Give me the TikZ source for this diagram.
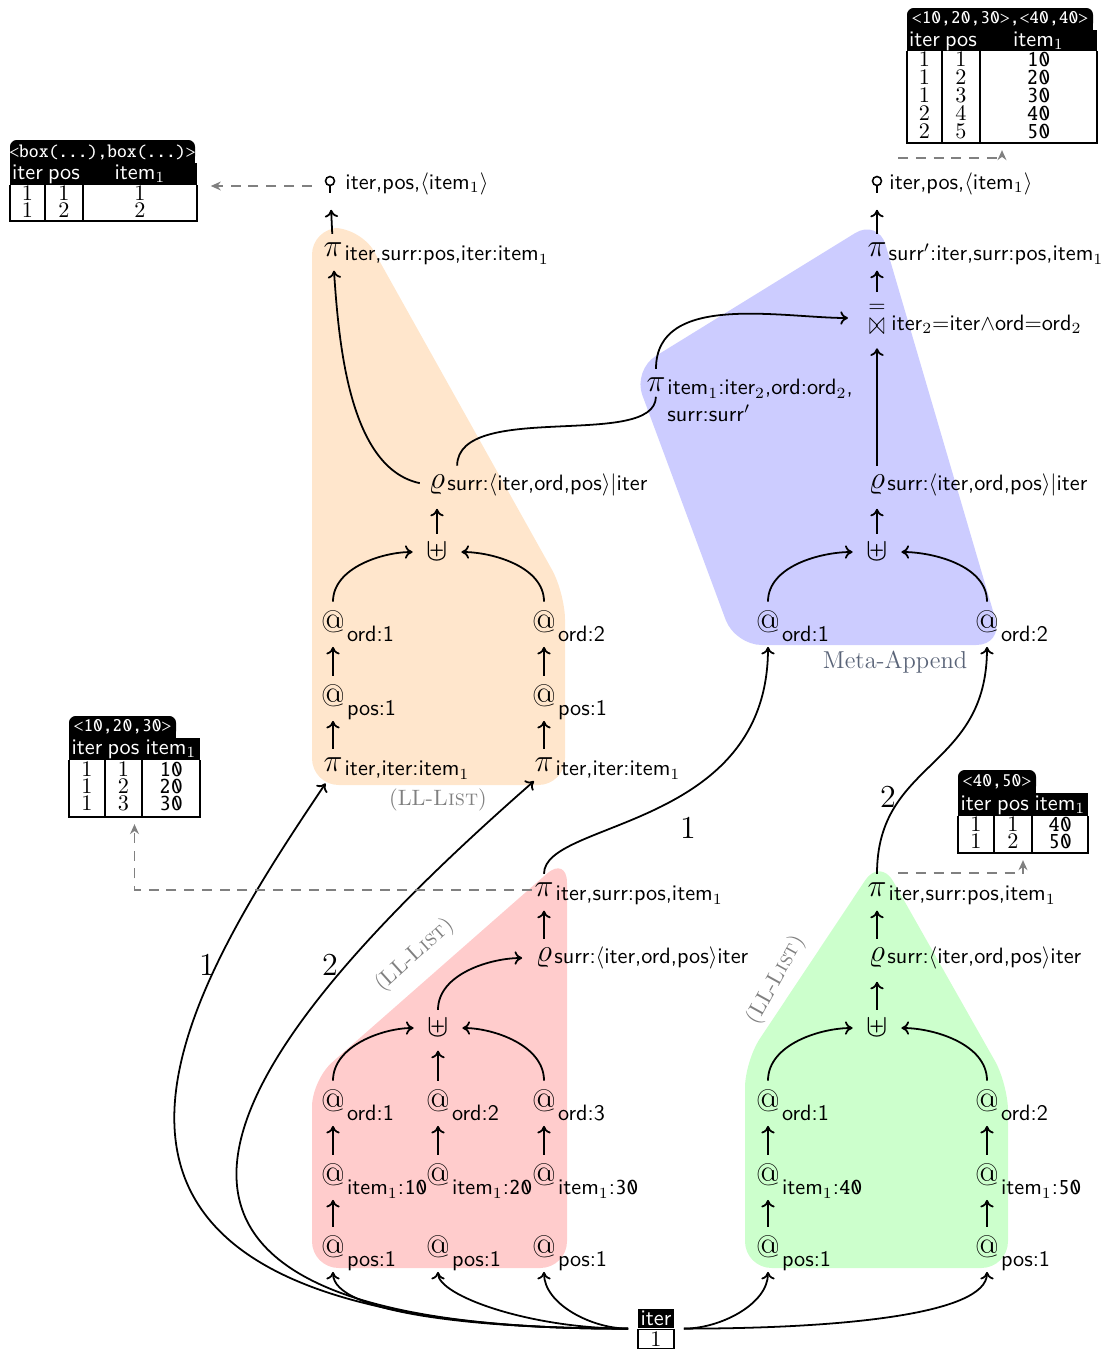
\documentclass[tikz,border=0pt]{standalone}
\usepackage[T1,TU]{fontenc}
\usepackage{amsmath,amssymb}
\usetikzlibrary{arrows.meta,fit}
\definecolor{orgfill}{RGB}{255,230,204}
\definecolor{bluefill}{RGB}{204,204,255}
\definecolor{redfill}{RGB}{255,204,204}
\definecolor{greenfill}{RGB}{204,255,204}
\definecolor{notegray}{gray}{0.5}
\definecolor{metacol}{RGB}{90,100,120}
\newcommand{\opsz}{\fontsize{14}{14}\selectfont}
\newcommand{\tabsz}{\fontsize{8.4}{9}\selectfont}
\newcommand{\tx}{\fontencoding{T1}\fontfamily{txtt}\selectfont}
% operator glyph with its subscript: name, x, y, glyph, drop, subscript
\newcommand{\opnode}[6]{%
  \node (#1) [op] at (#2,#3) {#4};
  \node (#1s) [sub] at ([xshift=0.6pt,yshift=-#5]#1.base east) {#6};}
\begin{document}
\begin{tikzpicture}[x=0.45pt,y=-0.45pt,
  op/.style={inner sep=0pt,font=\opsz},
  sub/.style={inner sep=0pt,anchor=base west,font=\sffamily},
  flow/.style={line width=0.8pt,-{To[length=3.4pt,width=6pt]},shorten <=4pt,shorten >=6pt},
  link/.style={line width=0.8pt,shorten <=4pt,shorten >=2pt},
  trace/.style={notegray,dash pattern=on 4.5pt off 3.5pt,line width=0.8pt,-{Stealth[length=4.5pt,width=4pt]}},
  region/.style={rounded corners=12pt},
  note/.style={notegray,font=\rmfamily},
  num/.style={font=\Large,inner sep=0pt},
  tabtop/.style={text=white,font=\tx\tabsz,inner sep=0pt},
  hdr/.style={text=white,font=\sffamily,inner sep=0pt,text height=7pt,text depth=2pt},
  cell/.style={font=\rmfamily,inner sep=0pt,text height=7pt,text depth=0pt},
  ttcell/.style={font=\tx,inner sep=0pt,text height=7pt,text depth=0pt},
  rule/.style={line width=0.5pt},
  holder/.style={inner sep=0pt},
  far/.style={out looseness=1.3,in looseness=0.45},
  serial/.pic={\draw[line width=0.7pt] (0,-1) circle[radius=4.5]; \draw[line width=0.7pt] (0,3.5) -- (0,11);}
]
\useasboundingbox (0,0) rectangle (1114,1349);

% ---------------- shaded regions ----------------
\fill[orgfill,region] (312,785) -- (312,228) -- (361,228) -- (565,593) -- (565,785) -- cycle;
\fill[bluefill,region] (878,219) -- (633,370) -- (735,645) -- (1003,645) -- cycle;
\fill[redfill,region] (567,856) -- (312,1080) -- (312,1268) -- (567,1268) -- cycle;
\fill[greenfill,region] (880,858) -- (745,1061) -- (745,1268) -- (1008,1268) -- (1008,1084) -- cycle;

\node (llA) [note] at (438,800) {(LL-\textsc{List})};
\node (llR) [note,rotate=42] at (415,955) {(LL-\textsc{List})};
\node (llG) [note,rotate=61] at (776,980) {(LL-\textsc{List})};
\node (meta) [font=\rmfamily\fontsize{11}{11}\selectfont,text=metacol] at (895,662) {Meta-Append};

% ---------------- first list (orange) ----------------
\node (serA) [holder,minimum width=4pt,minimum height=9pt] at (330,186) {};
\pic at (330,182) {serial};
\node (serAt) [sub] at (345,189) {iter,pos,$\langle$item$_1\rangle$};
\opnode{piTopA}{333}{250}{$\pi$}{1.8pt}{iter,surr:pos,iter:item$_1$}
\opnode{rhoA}{437}{485}{$\varrho$}{0.6pt}{surr:$\langle$iter,ord,pos$\rangle|$iter}
\node (uplusA) [op] at (437,552) {$\uplus$};
\opnode{ordA1}{333}{622}{\rmfamily @}{4pt}{ord:1}
\opnode{ordA2}{544}{622}{\rmfamily @}{4pt}{ord:2}
\opnode{posA1}{333}{696}{\rmfamily @}{4pt}{pos:1}
\opnode{posA2}{544}{696}{\rmfamily @}{4pt}{pos:1}
\opnode{piA1}{333}{765}{$\pi$}{1.8pt}{iter,iter:item$_1$}
\opnode{piA2}{544}{765}{$\pi$}{1.8pt}{iter,iter:item$_1$}

\draw[flow] (piA1) -- (posA1);
\draw[flow] (piA2) -- (posA2);
\draw[flow] (posA1) -- (ordA1);
\draw[flow] (posA2) -- (ordA2);
\draw[flow] (ordA1.north) to[out=90,in=180] (uplusA.west);
\draw[flow] (ordA2.north) to[out=90,in=0] (uplusA.east);
\draw[flow] (uplusA) -- (rhoA);
\draw[flow] (rhoA.west) to[out=168,in=-86,looseness=0.85] (piTopA.south);
\draw[flow] (piTopA) -- (serA);

% ---------------- meta append (blue) ----------------
\node (serB) [holder,minimum width=4pt,minimum height=9pt] at (877,186) {};
\pic at (877,182) {serial};
\node (serBt) [sub] at (889,189) {iter,pos,$\langle$item$_1\rangle$};
\opnode{piTopB}{877}{250}{$\pi$}{1.8pt}{surr$'$:iter,surr:pos,item$_1$}
\node (join) [op] at (877,318) {$\overset{=}{\scalebox{0.6}[1.05]{$\bowtie$}}$};
\node (joins) [sub,anchor=west] at (891,324) {iter$_2{=}$iter$\wedge$ord$=$ord$_2$};
\node (piI) [op] at (656,385) {$\pi$};
\node (piIs) [sub,anchor=north west,align=left] at (667,379) {item$_1$:iter$_2$,ord:ord$_2$,\\surr:surr$'$};
\opnode{rhoB}{877}{485}{$\varrho$}{0.6pt}{surr:$\langle$iter,ord,pos$\rangle|$iter}
\node (uplusB) [op] at (877,552) {$\uplus$};
\opnode{ordB1}{768}{622}{\rmfamily @}{4pt}{ord:1}
\opnode{ordB2}{987}{622}{\rmfamily @}{4pt}{ord:2}

\draw[flow] (ordB1.north) to[out=90,in=180] (uplusB.west);
\draw[flow] (ordB2.north) to[out=90,in=0] (uplusB.east);
\draw[flow] (uplusB) -- (rhoB);
\draw[flow] (rhoB) -- (join);
\draw[flow] (join) -- (piTopB);
\draw[flow] (piTopB) -- (serB);
\draw[link] ([xshift=9pt]rhoA.north) .. controls (458,400) and (655,450) .. (piI.south);
\draw[flow,shorten >=9pt] (piI.north) to[out=90,in=180] (join.west);

% ---------------- second list (red) ----------------
\opnode{piR}{544}{890}{$\pi$}{1.8pt}{iter,surr:pos,item$_1$}
\opnode{rhoR}{544}{958}{$\varrho$}{0.6pt}{surr:$\langle$iter,ord,pos$\rangle$iter}
\node (uplusR) [op] at (438,1028) {$\uplus$};
\opnode{ordR1}{333}{1101}{\rmfamily @}{4pt}{ord:1}
\opnode{ordR2}{438}{1101}{\rmfamily @}{4pt}{ord:2}
\opnode{ordR3}{544}{1101}{\rmfamily @}{4pt}{ord:3}
\opnode{itemR1}{333}{1175}{\rmfamily @}{4pt}{item$_1$:{\tx 10}}
\opnode{itemR2}{438}{1175}{\rmfamily @}{4pt}{item$_1$:{\tx 20}}
\opnode{itemR3}{544}{1175}{\rmfamily @}{4pt}{item$_1$:{\tx 30}}
\opnode{posR1}{333}{1247}{\rmfamily @}{4pt}{pos:1}
\opnode{posR2}{438}{1247}{\rmfamily @}{4pt}{pos:1}
\opnode{posR3}{544}{1247}{\rmfamily @}{4pt}{pos:1}

\draw[flow] (posR1) -- (itemR1);
\draw[flow] (itemR1) -- (ordR1);
\draw[flow] (itemR2) -- (ordR2);
\draw[flow] (itemR3) -- (ordR3);
\draw[flow] (ordR1.north) to[out=90,in=180] (uplusR.west);
\draw[flow] (ordR2) -- (uplusR);
\draw[flow] (ordR3.north) to[out=90,in=0] (uplusR.east);
\draw[flow] (uplusR.north) to[out=90,in=180] (rhoR.west);
\draw[flow] (rhoR) -- (piR);

% ---------------- third list (green) ----------------
\opnode{piG}{877}{890}{$\pi$}{1.8pt}{iter,surr:pos,item$_1$}
\opnode{rhoG}{877}{958}{$\varrho$}{0.6pt}{surr:$\langle$iter,ord,pos$\rangle$iter}
\node (uplusG) [op] at (877,1028) {$\uplus$};
\opnode{ordG1}{768}{1101}{\rmfamily @}{4pt}{ord:1}
\opnode{ordG2}{987}{1101}{\rmfamily @}{4pt}{ord:2}
\opnode{itemG1}{768}{1175}{\rmfamily @}{4pt}{item$_1$:{\tx 40}}
\opnode{itemG2}{987}{1175}{\rmfamily @}{4pt}{item$_1$:{\tx 50}}
\opnode{posG1}{768}{1247}{\rmfamily @}{4pt}{pos:1}
\opnode{posG2}{987}{1247}{\rmfamily @}{4pt}{pos:1}

\draw[flow] (posG1) -- (itemG1);
\draw[flow] (posG2) -- (itemG2);
\draw[flow] (itemG1) -- (ordG1);
\draw[flow] (itemG2) -- (ordG2);
\draw[flow] (ordG1.north) to[out=90,in=180] (uplusG.west);
\draw[flow] (ordG2.north) to[out=90,in=0] (uplusG.east);
\draw[flow] (uplusG) -- (rhoG);
\draw[flow] (rhoG) -- (piG);

% ---------------- loop relation ----------------
\node (iterH) [fill=black,text=white,font=\sffamily,inner sep=0pt,minimum width=16.2pt,minimum height=8.6pt] at (656,1318.5) {iter};
\node (iterC) [draw,rule,font=\rmfamily,inner sep=0pt,minimum width=16.2pt,minimum height=8.6pt,anchor=north] at (iterH.south) {1};
\node (iterT) [fit=(iterH)(iterC),inner sep=0pt] {};

\draw[flow] (iterT.west) to[out=180,in=-90,far] (posR1.south);
\draw[flow] (iterT.west) to[out=180,in=-90,far] (posR2.south);
\draw[flow] (iterT.west) to[out=180,in=-90] (posR3.south);
\draw[flow] (iterT.east) to[out=0,in=-90] (posG1.south);
\draw[flow] (iterT.east) to[out=0,in=-90,far] (posG2.south);
\draw[flow] (iterT.west) .. controls (-30,1330) and (180,1000) .. (piA1.south);
\draw[flow] (iterT.west) .. controls (0,1330) and (250,1030) .. (piA2.south);
\draw[flow] (piR.north) .. controls (544,820) and (768,830) .. (ordB1.south);
\draw[flow] (piG.north) .. controls (877,760) and (987,770) .. (ordB2.south);

\node (lab1a) [num] at (207,965) {1};
\node (lab2a) [num] at (330,965) {2};
\node (lab1b) [num] at (688,828) {1};
\node (lab2b) [num] at (888,797) {2};

% ---------------- result tables ----------------
% table: <box(...),box(...)>
\fill[black,rounded corners=3pt] (10,140) rectangle (195,163);
\fill[black] (10,152) rectangle (195,163);
\node (t1tab) [tabtop] at (102.5,152) {<box(...),box(...)>};
\fill[black] (10,163) rectangle (197,185);
\node (t1h1) [hdr] at (27.5,174) {iter};
\node (t1h2) [hdr] at (64,174) {pos};
\node (t1h3) [hdr] at (140,174) {item$_1$};
\draw[rule] (10,185) -- (10,221) -- (197,221) -- (197,185);
\draw[rule] (45,185) -- (45,221);
\draw[rule] (83,185) -- (83,221);
\node (t1a1) [cell] at (27.5,193) {1};
\node (t1a2) [cell] at (64,193) {1};
\node (t1a3) [cell] at (140,193) {1};
\node (t1b1) [cell] at (27.5,210) {1};
\node (t1b2) [cell] at (64,210) {2};
\node (t1b3) [cell] at (140,210) {2};
\node (t1) [fit={(10,140) (197,221)},inner sep=0pt] {};

% table: <10,20,30>,<40,40>
\fill[black,rounded corners=3pt] (907,8) rectangle (1093,30);
\fill[black] (907,19) rectangle (1093,30);
\node (t2tab) [tabtop] at (1000,19) {<10,20,30>,<40,40>};
\fill[black] (907,30) rectangle (1097,51);
\node (t2h1) [hdr] at (924.5,41) {iter};
\node (t2h2) [hdr] at (961,41) {pos};
\node (t2h3) [hdr] at (1038.5,41) {item$_1$};
\draw[rule] (907,51) -- (907,143) -- (1097,143) -- (1097,51);
\draw[rule] (942,51) -- (942,143);
\draw[rule] (980,51) -- (980,143);
\foreach \r/\a/\b/\c in {0/1/1/10,1/1/2/20,2/1/3/30,3/2/4/40,4/2/5/50}{
  \node (t2r\r a) [cell] at (924.5,59+18*\r) {\a};
  \node (t2r\r b) [cell] at (961,59+18*\r) {\b};
  \node (t2r\r c) [ttcell] at (1038.5,59+18*\r) {\c};
}
\node (t2) [fit={(907,8) (1097,143)},inner sep=0pt] {};

% table: <10,20,30>
\fill[black,rounded corners=3pt] (69,716) rectangle (176,738);
\fill[black] (69,727) rectangle (176,738);
\node (t3tab) [tabtop] at (122.5,727) {<10,20,30>};
\fill[black] (69,738) rectangle (200,760);
\node (t3h1) [hdr] at (87,749) {iter};
\node (t3h2) [hdr] at (123.5,749) {pos};
\node (t3h3) [hdr] at (171,749) {item$_1$};
\draw[rule] (69,760) -- (69,817) -- (200,817) -- (200,760);
\draw[rule] (105,760) -- (105,817);
\draw[rule] (142,760) -- (142,817);
\foreach \r/\a/\b/\c in {0/1/1/10,1/1/2/20,2/1/3/30}{
  \node (t3r\r a) [cell] at (87,769+17*\r) {\a};
  \node (t3r\r b) [cell] at (123.5,769+17*\r) {\b};
  \node (t3r\r c) [ttcell] at (171,769+17*\r) {\c};
}
\node (t3) [fit={(69,716) (200,817)},inner sep=0pt] {};

% table: <40,50>
\fill[black,rounded corners=3pt] (958,770) rectangle (1036,793);
\fill[black] (958,781) rectangle (1036,793);
\node (t4tab) [tabtop] at (997,781.5) {<40,50>};
\fill[black] (958,793) rectangle (1088,816);
\node (t4h1) [hdr] at (976,804.5) {iter};
\node (t4h2) [hdr] at (1013,804.5) {pos};
\node (t4h3) [hdr] at (1060,804.5) {item$_1$};
\draw[rule] (958,816) -- (958,853) -- (1088,853) -- (1088,816);
\draw[rule] (994,816) -- (994,853);
\draw[rule] (1032,816) -- (1032,853);
\foreach \r/\a/\b/\c in {0/1/1/40,1/1/2/50}{
  \node (t4r\r a) [cell] at (976,824+17*\r) {\a};
  \node (t4r\r b) [cell] at (1013,824+17*\r) {\b};
  \node (t4r\r c) [ttcell] at (1060,824+17*\r) {\c};
}
\node (t4) [fit={(958,770) (1088,853)},inner sep=0pt] {};

% ---------------- dashed result links ----------------
\draw[trace,shorten <=6pt,shorten >=6pt] (serA.west) -- (serA.west -| t1.east);
\coordinate (serBout) at (898,158);
\draw[trace,shorten >=3pt] (serBout) -| (t2.south);
\draw[trace,shorten <=1pt,shorten >=3pt] (piR.west) -| (t3.south);
\coordinate (piGout) at (898,873);
\draw[trace,shorten >=3pt] (piGout) -| (t4.south);
\end{tikzpicture}
\end{document}
